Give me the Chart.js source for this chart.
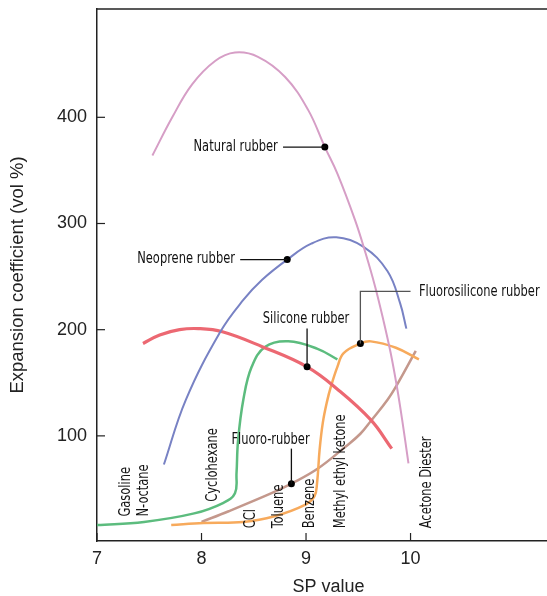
<!DOCTYPE html>
<html>
<head>
<meta charset="utf-8">
<script src="https://cdn.jsdelivr.net/npm/chart.js@4/dist/chart.umd.min.js"></script>
<style>
  html, body { margin: 0; padding: 0; background: #fff; overflow: hidden; }
  #wrap { width: 564px; height: 596px; }
</style>
</head>
<body>
<div id="wrap"><canvas id="myChart"></canvas></div>
<script>
// tick labels
const xTicks = [7, 8, 9, 10];
const yTicks = [100, 200, 300, 400];

// curves (SP value, expansion %)
const naturalX = [7.53, 7.72, 7.91, 8.13, 8.32, 8.54, 8.80, 9.02, 9.18, 9.30, 9.47, 9.57, 9.66, 9.74, 9.81, 9.87, 9.92, 9.98];
const naturalY = [364, 400, 431, 453, 461, 457, 438, 407, 372, 347, 303, 272, 241, 209, 178, 146, 115, 74];

const neopreneX = [7.64, 7.85, 8.18, 8.40, 8.58, 8.82, 9.05, 9.29, 9.55, 9.78, 9.90, 9.96];
const neopreneY = [73, 134, 198, 228, 247, 266, 281, 287, 278, 255, 225, 201];

const redX = [7.44, 7.60, 7.79, 7.97, 8.20, 8.58, 9.01, 9.30, 9.62, 9.82];
const redY = [187, 195, 200, 201, 198, 184, 165, 144, 115, 88];

const siliconeX = [7.0, 7.45, 7.93, 8.21, 8.32, 8.335, 8.35, 8.40, 8.48, 8.61, 8.83, 9.11, 9.30];
const siliconeY = [16, 19, 27, 37, 46, 65, 96, 134, 165, 184, 189, 182, 172];

const fluoroSilX = [7.71, 8.02, 8.40, 8.69, 8.99, 9.08, 9.105, 9.13, 9.16, 9.20, 9.24, 9.30, 9.36, 9.52, 9.62, 9.86, 10.08];
const fluoroSilY = [16, 18, 19, 24, 35, 43, 55, 87, 112, 132, 147, 165, 178, 187, 189, 183, 172];

const fluoroX = [8.0, 8.26, 8.67, 8.86, 9.11, 9.38, 9.52, 9.62, 9.78, 9.87, 10.05];
const fluoroY = [19, 29, 46, 55, 69, 90, 102, 114, 134, 148, 180];

// labelled points
const markerX = [9.18, 8.82, 9.01, 9.52, 8.86];
const markerY = [372, 266, 165, 187, 55];

// solvents written along the bottom
const solvents = ['Gasoline', 'N-octane', 'Cyclohexane', 'CCl', 'Toluene', 'Benzene', 'Methyl ethyl ketone', 'Acetone Diester'];
const solventX = [7.28, 7.455, 8.11, 8.47, 8.745, 9.035, 9.34, 10.16];
const solventY = [24, 24, 38, 13, 13, 13, 13, 13];

// callout text + leader path (last point = marker)
const callouts = [
  { text: 'Natural rubber', at: [8.73, 372], align: 'right', path: [[8.78, 372], [9.18, 372]] },
  { text: 'Neoprene rubber', at: [8.32, 266], align: 'right', path: [[8.37, 266], [8.82, 266]] },
  { text: 'Silicone rubber', at: [9.0, 210], align: 'center', path: [[9.01, 201], [9.01, 165]] },
  { text: 'Fluorosilicone rubber', at: [10.08, 235], align: 'left', path: [[10.0, 236], [9.52, 236], [9.52, 187]], color: '#555' },
  { text: 'Fluoro-rubber', at: [8.66, 96], align: 'center', path: [[8.86, 88], [8.86, 55]] }
];

const labelFont = "15px 'Liberation Sans Narrow', 'DejaVu Sans Condensed', sans-serif";
const squeeze = 0.85; // condensed look of the original lettering
const tickFont = { family: "'Liberation Sans', Arial, sans-serif", size: 18 };

const pts = (xs, ys) => xs.map((v, i) => ({ x: v, y: ys[i] }));

function curve(xs, ys, color, width) {
  return {
    data: pts(xs, ys),
    showLine: true,
    borderColor: color,
    borderWidth: width,
    pointRadius: 0,
    tension: 0.4,
    order: 1
  };
}

function narrowText(ctx, text, px, py, align, angle) {
  ctx.save();
  ctx.translate(px, py);
  ctx.rotate(angle);
  ctx.scale(squeeze, 1);
  ctx.textAlign = align;
  ctx.textBaseline = 'middle';
  ctx.fillText(text, 0, 0);
  ctx.restore();
}

const annotate = {
  id: 'annotate',
  afterDatasetsDraw(chart) {
    const { ctx, chartArea, scales: { x, y } } = chart;
    ctx.save();
    ctx.strokeStyle = '#222';
    ctx.lineWidth = 1.5;
    // top frame
    ctx.beginPath();
    ctx.moveTo(chartArea.left, chartArea.top);
    ctx.lineTo(chartArea.right, chartArea.top);
    ctx.stroke();
    // inward ticks
    ctx.lineWidth = 1.2;
    xTicks.forEach(v => {
      const px = x.getPixelForValue(v);
      ctx.beginPath();
      ctx.moveTo(px, chartArea.bottom);
      ctx.lineTo(px, chartArea.bottom - 8);
      ctx.stroke();
    });
    yTicks.forEach(v => {
      const py = y.getPixelForValue(v);
      ctx.beginPath();
      ctx.moveTo(chartArea.left, py);
      ctx.lineTo(chartArea.left + 8, py);
      ctx.stroke();
    });

    ctx.font = labelFont;
    ctx.fillStyle = '#111';
    // solvent names (vertical)
    solvents.forEach((t, i) => {
      narrowText(ctx, t, x.getPixelForValue(solventX[i]), y.getPixelForValue(solventY[i]), 'left', -Math.PI / 2);
    });

    // callouts
    callouts.forEach(c => {
      ctx.strokeStyle = c.color || '#111';
      ctx.lineWidth = 1.3;
      ctx.beginPath();
      c.path.forEach((p, i) => {
        const px = x.getPixelForValue(p[0]), py = y.getPixelForValue(p[1]);
        if (i === 0) ctx.moveTo(px, py); else ctx.lineTo(px, py);
      });
      ctx.stroke();
      narrowText(ctx, c.text, x.getPixelForValue(c.at[0]), y.getPixelForValue(c.at[1]), c.align, 0);
    });
    ctx.restore();
  }
};

const ctx = document.getElementById('myChart');

new Chart(ctx, {
  type: 'scatter',
  data: {
    datasets: [
      {
        data: pts(markerX, markerY),
        pointRadius: 3.5,
        pointBackgroundColor: '#000',
        pointBorderWidth: 0,
        showLine: false,
        order: 0
      },
      curve(naturalX, naturalY, 'rgb(214,158,198)', 2),
      curve(neopreneX, neopreneY, 'rgb(120,130,196)', 2),
      curve(redX, redY, 'rgb(236,104,114)', 3.2),
      curve(siliconeX, siliconeY, 'rgb(92,188,126)', 2.5),
      curve(fluoroSilX, fluoroSilY, 'rgb(247,170,92)', 2.5),
      curve(fluoroX, fluoroY, 'rgb(196,152,140)', 2.5)
    ]
  },
  options: {
    responsive: true,
    maintainAspectRatio: false,
    animation: false,
    events: [],
    layout: { padding: { top: 9, right: 0, left: 0, bottom: 0 } },
    plugins: {
      legend: { display: false },
      tooltip: { enabled: false }
    },
    scales: {
      x: {
        type: 'linear',
        min: 7,
        max: 11.43,
        afterBuildTicks: s => { s.ticks = xTicks.map(v => ({ value: v })); },
        afterFit: s => { s.height = 55; s.paddingLeft = 0; s.paddingRight = 0; },
        grid: { display: true, drawOnChartArea: false, drawTicks: false },
        border: { display: true, color: '#222', width: 1.5 },
        ticks: { padding: 7, color: '#222', font: tickFont },
        title: {
          display: true,
          text: 'SP value',
          color: '#222',
          padding: { top: 0, bottom: 0 },
          font: { family: tickFont.family, size: 18, lineHeight: 1 }
        }
      },
      y: {
        type: 'linear',
        min: 1,
        max: 502,
        afterBuildTicks: s => { s.ticks = yTicks.map(v => ({ value: v })); },
        afterFit: s => { s.width = 97; s.paddingTop = 0; s.paddingBottom = 0; },
        grid: { display: true, drawOnChartArea: false, drawTicks: false },
        border: { display: true, color: '#222', width: 1.5 },
        ticks: { padding: 10, color: '#222', font: tickFont },
        title: {
          display: true,
          text: 'Expansion coefficient (vol %)',
          color: '#222',
          padding: { top: 7, bottom: 0 },
          font: { family: tickFont.family, size: 18.5 }
        }
      }
    }
  },
  plugins: [annotate]
});
</script>
</body>
</html>
